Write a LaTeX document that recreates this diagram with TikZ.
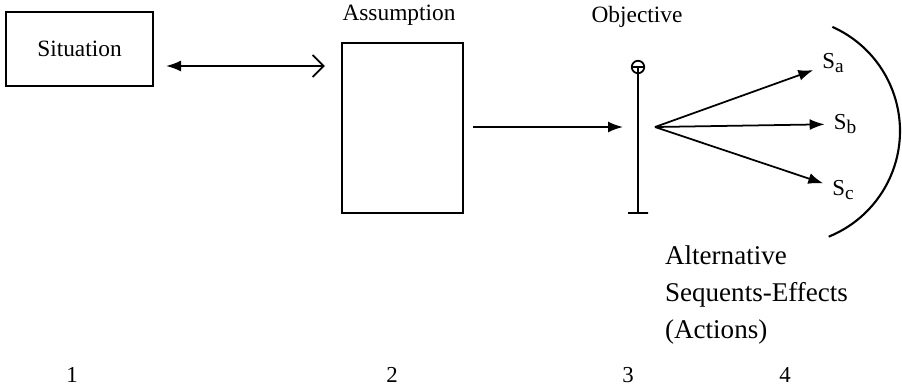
\documentclass[tikz,border=0pt]{standalone}
\usepackage{fontspec}
\setmainfont{Liberation Serif}
\usepackage{tikz}
\usetikzlibrary{arrows.meta}
\tikzset{
  bloco/.style={rectangle,draw,line width=1.2pt,inner sep=0pt},
  seta/.style={-{Latex[length=3mm,width=2.2mm]},line width=1pt},
  rotulo/.style={inner sep=1pt,font=\fontsize{13.3}{16}\selectfont},
  efeito/.style={inner sep=1pt,font=\fontsize{15.4}{21}\selectfont},
  saida/.style={inner sep=4pt,font=\fontsize{13}{15}\selectfont},
  numero/.style={inner sep=0pt,font=\fontsize{13}{15}\selectfont}
}
\newcommand{\sai}[1]{S\raisebox{-0.45ex}{\fontsize{11}{13}\selectfont #1}}
\begin{document}
\begin{tikzpicture}[x=0.02cm,y=-0.02cm]
\useasboundingbox (0,0) rectangle (902,390);
\node[bloco,rotulo,minimum width=2.94cm,minimum height=1.48cm] (sit) at (79.5,49) {Situation};
\node[bloco,minimum width=2.42cm,minimum height=3.4cm] (assum) at (402.5,128) {};
\node[rotulo] (assumlbl) at (399,15) {Assumption};
\node[rotulo] (objlbl) at (637,17) {Objective};
\coordinate (topo) at (638,67);
\coordinate (obj) at (638,127);
\coordinate (base) at (638,213);
\coordinate (leque) at (655,127);
\coordinate (arco) at (786,131);
\draw[{Latex[length=3mm,width=2.2mm]}-{Straight Barb[length=2.2mm]},line width=1pt]
  ([shift={(12,17)}]sit.east) -- ([shift={(-16,-62)}]assum.west);
\draw[seta] ([shift={(9,-1)}]assum.east) -- ([shift={(-15,0)}]obj);
\draw[line width=1pt] (topo) circle[radius=1.25mm] ([xshift=-1.25mm]topo) -- ([xshift=1.25mm]topo)
  (topo) -- (base) ([xshift=-2mm]base) -- ([xshift=2mm]base);
\node[saida] (sa) at (833,63) {\sai{a}};
\node[saida] (sb) at (845,124) {\sai{b}};
\node[saida] (sc) at (843,190) {\sai{c}};
\foreach \s in {sa,sb,sc}
  \draw[seta,shorten >=1pt] (leque) -- (\s);
\draw[line width=1.2pt] (arco) ++(66:2.28cm) arc[start angle=66,end angle=-68,radius=2.28cm];
\node[efeito,align=left,anchor=west] (alt) at (663,295) {Alternative\\Sequents-Effects\\(Actions)};
\foreach \n/\x in {1/72,2/392,3/628,4/785}
  \node[numero] (n\n) at (\x,375) {\n};
\end{tikzpicture}
\end{document}
